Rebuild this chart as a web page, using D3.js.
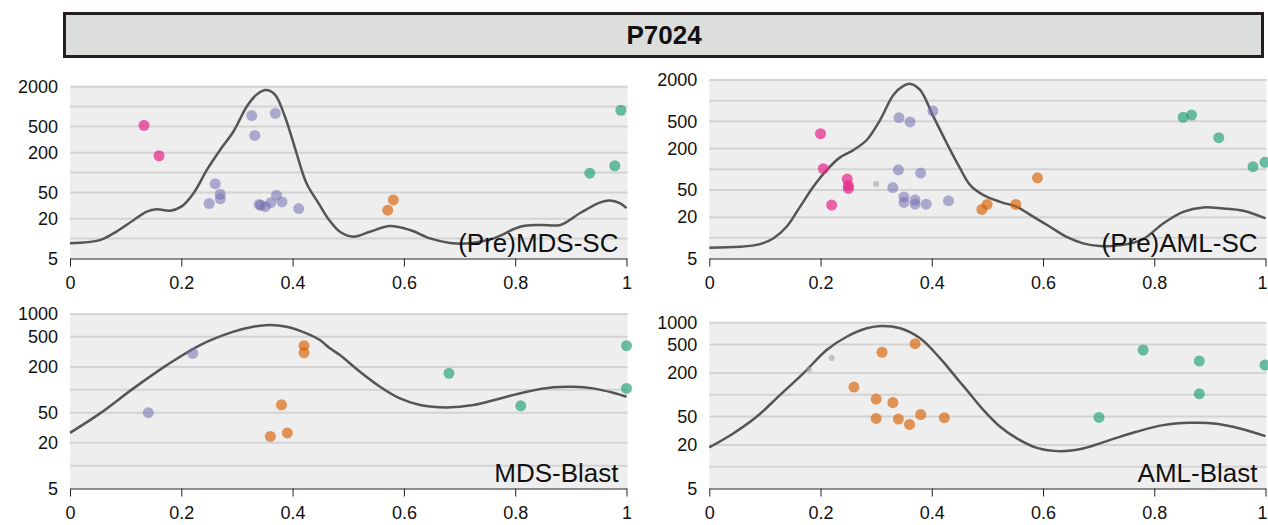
<!DOCTYPE html>
<html>
<head>
<meta charset="utf-8">
<script src="https://cdn.jsdelivr.net/npm/d3@7"></script>
<style>
  html, body { margin: 0; padding: 0; background: #fff; }
  svg { display: block; font-family: "Liberation Sans", Arial, sans-serif; }
</style>
</head>
<body>
<svg id="chart" width="1268" height="525"></svg>
<script>
// ---------------- DATA ----------------
const chartTitle = "P7024";
const panelNames = ["(Pre)MDS-SC", "(Pre)AML-SC", "MDS-Blast", "AML-Blast"];
const xTickValues = [0, 0.2, 0.4, 0.6, 0.8, 1];
const yTickLabelsTop = [5, 20, 50, 200, 500, 2000];
const yGridTop = [10, 20, 50, 100, 200, 500, 1000, 2000];
const yTickLabelsBottom = [5, 20, 50, 200, 500, 1000];
const yGridBottom = [10, 20, 50, 100, 200, 500, 1000];
const groupNames = ["pink", "purple", "grey", "orange", "green"];
const groupColors = ["#e7298a", "#7570b3", "#9a9a9a", "#d95f02", "#1b9e77"];

// points: [x, value, group]
const preMdsScPoints = [
  [0.133, 520, "pink"], [0.160, 180, "pink"],
  [0.3265, 730, "purple"], [0.369, 790, "purple"], [0.332, 365, "purple"],
  [0.261, 68, "purple"], [0.270, 47, "purple"], [0.270, 40, "purple"],
  [0.250, 34, "purple"], [0.340, 33, "purple"], [0.343, 32, "purple"],
  [0.351, 30.5, "purple"], [0.361, 35, "purple"], [0.371, 45.5, "purple"],
  [0.381, 36, "purple"], [0.411, 28.5, "purple"],
  [0.581, 38.5, "orange"], [0.571, 27, "orange"],
  [0.934, 98, "green"], [0.979, 127, "green"], [0.990, 880, "green"]
];
const preAmlScPoints = [
  [0.200, 330, "pink"], [0.205, 102, "pink"], [0.248, 72, "pink"],
  [0.250, 58, "pink"], [0.250, 52.5, "pink"], [0.220, 30, "pink"],
  [0.300, 61, "grey"],
  [0.341, 565, "purple"], [0.361, 490, "purple"], [0.402, 705, "purple"],
  [0.340, 98, "purple"], [0.380, 88, "purple"], [0.330, 54, "purple"],
  [0.350, 39.5, "purple"], [0.350, 33, "purple"], [0.370, 35.5, "purple"],
  [0.370, 31, "purple"], [0.390, 31, "purple"], [0.430, 34.7, "purple"],
  [0.490, 26, "orange"], [0.4995, 30.7, "orange"], [0.551, 30.7, "orange"],
  [0.590, 75, "orange"],
  [0.852, 572, "green"], [0.867, 618, "green"], [0.916, 288, "green"],
  [0.9775, 109, "green"], [0.999, 126, "green"]
];
const mdsBlastPoints = [
  [0.1407, 50, "purple"], [0.2205, 303, "purple"],
  [0.4205, 382, "orange"], [0.4205, 308, "orange"], [0.380, 63.5, "orange"],
  [0.360, 24.3, "orange"], [0.3905, 27, "orange"],
  [0.681, 165, "green"], [0.810, 61.6, "green"], [1.0, 382, "green"], [1.0, 104.5, "green"]
];
const amlBlastPoints = [
  [0.179, 225, "grey"], [0.220, 323, "grey"],
  [0.370, 511, "orange"], [0.3105, 388, "orange"], [0.260, 128, "orange"],
  [0.300, 87, "orange"], [0.330, 78, "orange"], [0.300, 47, "orange"],
  [0.340, 46, "orange"], [0.380, 53, "orange"], [0.360, 38.7, "orange"],
  [0.4225, 48, "orange"],
  [0.7006, 48.5, "green"], [0.780, 418, "green"], [0.881, 294, "green"],
  [0.881, 103, "green"], [0.999, 258, "green"]
];

// density curves: [x, value]
const preMdsScCurve = [
  [0, 8.5], [0.054, 9.5], [0.078, 12], [0.114, 19], [0.138, 25.6], [0.156, 27.9],
  [0.180, 26.5], [0.2, 30.5], [0.222, 48.8], [0.246, 110], [0.27, 222], [0.294, 423],
  [0.318, 1014], [0.336, 1530], [0.352, 1778], [0.368, 1530], [0.386, 715],
  [0.407, 198], [0.425, 69], [0.447, 34], [0.466, 19], [0.485, 12.7], [0.509, 10.7],
  [0.539, 12.7], [0.575, 15.5], [0.611, 13.5], [0.647, 10.1], [0.683, 8.6],
  [0.719, 8.5], [0.761, 10.1], [0.809, 15.1], [0.845, 16.1], [0.881, 16.1],
  [0.916, 24.2], [0.952, 35.1], [0.970, 37.7], [0.988, 34.4], [1.0, 29]
];
const preAmlScCurve = [
  [0, 7.2], [0.055, 7.4], [0.091, 8.1], [0.115, 9.8], [0.139, 14.5], [0.163, 28.3],
  [0.187, 55.5], [0.211, 97], [0.235, 149], [0.259, 190], [0.283, 267], [0.307, 522],
  [0.331, 1211], [0.349, 1637], [0.362, 1753], [0.379, 1432], [0.403, 584],
  [0.427, 239], [0.449, 110], [0.469, 58.8], [0.493, 42], [0.523, 33.5],
  [0.553, 28.3], [0.583, 20.2], [0.6125, 14.5], [0.6425, 10.3], [0.672, 8.3],
  [0.702, 7.6], [0.744, 7.9], [0.780, 9.6], [0.816, 16.2], [0.852, 23.9],
  [0.888, 27.8], [0.924, 26.8], [0.960, 24.8], [1.0, 19.2]
];
const mdsBlastCurve = [
  [0, 27.1], [0.054, 48.9], [0.114, 104.5], [0.174, 212], [0.234, 390], [0.294, 585],
  [0.329, 680], [0.359, 716], [0.389, 680], [0.425, 556], [0.449, 454], [0.467, 353],
  [0.485, 288], [0.521, 173], [0.557, 110], [0.593, 77], [0.629, 63], [0.677, 58.7],
  [0.725, 63], [0.773, 77], [0.821, 94.3], [0.8685, 108], [0.904, 110], [0.940, 104.5],
  [0.976, 91.4], [1.0, 81]
];
const amlBlastCurve = [
  [0, 18.6], [0.043, 29], [0.085, 49.4], [0.127, 98.9], [0.169, 198], [0.211, 418],
  [0.247, 638], [0.283, 836], [0.310, 900], [0.343, 836], [0.379, 607], [0.415, 320],
  [0.433, 220], [0.449, 155], [0.463, 116], [0.493, 61.2], [0.523, 35.9], [0.553, 24.8],
  [0.589, 18.3], [0.6305, 16.5], [0.672, 18], [0.720, 23.5], [0.768, 30.6],
  [0.816, 37.9], [0.864, 40.8], [0.912, 39.7], [0.954, 34.1], [1.0, 26.7]
];

// ---------------- LAYOUT ----------------
const W = 1268;
const svg = d3.select("#chart");
const color = d3.scaleOrdinal().domain(groupNames).range(groupColors);
const opacity = { pink: 0.72, purple: 0.55, grey: 0.55, orange: 0.65, green: 0.65 };
const radius = { pink: 5.5, purple: 5.5, grey: 3, orange: 5.5, green: 5.5 };

// title banner
svg.append("rect")
  .attr("x", 64.5).attr("y", 13.5).attr("width", 1198).attr("height", 43)
  .attr("fill", "#dcdedc").attr("stroke", "#231f20").attr("stroke-width", 3);
svg.append("text")
  .attr("x", 664).attr("y", 43.5).attr("text-anchor", "middle")
  .attr("font-size", 26).attr("font-weight", "bold").attr("fill", "#111")
  .text(chartTitle);

const panels = [
  { name: panelNames[0], pts: preMdsScPoints, curve: preMdsScCurve, x0: 70, x1: 626.5, yTop: 86.7, yBot: 258.5, dom: [5, 2000], labels: yTickLabelsTop, grid: yGridTop },
  { name: panelNames[1], pts: preAmlScPoints, curve: preAmlScCurve, x0: 709.3, x1: 1265.5, yTop: 80, yBot: 258.5, dom: [5, 2000], labels: yTickLabelsTop, grid: yGridTop },
  { name: panelNames[2], pts: mdsBlastPoints, curve: mdsBlastCurve, x0: 70, x1: 626.5, yTop: 314, yBot: 488.5, dom: [5, 1000], labels: yTickLabelsBottom, grid: yGridBottom },
  { name: panelNames[3], pts: amlBlastPoints, curve: amlBlastCurve, x0: 709.3, x1: 1265.5, yTop: 322.7, yBot: 488.5, dom: [5, 1000], labels: yTickLabelsBottom, grid: yGridBottom }
];

panels.forEach((p, i) => {
  const x = d3.scaleLinear().domain([0, 1]).range([p.x0, p.x1]);
  const y = d3.scaleLog().domain(p.dom).range([p.yBot, p.yTop]);
  const g = svg.append("g");

  // background
  g.append("rect")
    .attr("x", p.x0).attr("y", p.yTop - 1)
    .attr("width", p.x1 - p.x0 + 1).attr("height", p.yBot - p.yTop + 1)
    .attr("fill", "#eeeeee");

  // gridlines
  g.selectAll("line.grid").data(p.grid).enter().append("line")
    .attr("class", "grid")
    .attr("x1", p.x0).attr("x2", p.x1 + 1)
    .attr("y1", d => y(d)).attr("y2", d => y(d))
    .attr("stroke", "#d3d3d3").attr("stroke-width", 2);

  // y axis labels
  const yAxis = d3.axisLeft(y).tickValues(p.labels).tickFormat(d3.format("d"))
    .tickSize(0).tickPadding(12);
  const ya = g.append("g").attr("transform", `translate(${p.x0},0)`).call(yAxis);
  ya.select(".domain").remove();
  ya.selectAll("text").attr("font-size", 18).attr("fill", "#111")
    .attr("font-family", "'Liberation Sans', Arial, sans-serif");

  // x axis
  const xAxis = d3.axisBottom(x).tickValues(xTickValues).tickFormat(d3.format(""))
    .tickSize(8).tickSizeOuter(0).tickPadding(10);
  const xa = g.append("g").attr("transform", `translate(0,${p.yBot})`).call(xAxis);
  xa.select(".domain").attr("stroke", "#222");
  xa.selectAll(".tick line").attr("stroke", "#222");
  xa.selectAll("text").attr("font-size", 18).attr("fill", "#111")
    .attr("font-family", "'Liberation Sans', Arial, sans-serif");
  // keep edge labels inside the page
  xa.selectAll(".tick text").each(function (d) {
    const bb = this.getBBox();
    const right = x(d) + bb.x + bb.width;
    if (right > W - 1) d3.select(this).attr("dx", (W - 1 - right).toFixed(1));
  });

  // density curve
  const line = d3.line().x(d => x(d[0])).y(d => y(d[1])).curve(d3.curveCatmullRom.alpha(0.5));
  g.append("path").datum(p.curve)
    .attr("d", line).attr("fill", "none")
    .attr("stroke", "#555").attr("stroke-width", 2.5);

  // points
  g.selectAll("circle").data(p.pts).enter().append("circle")
    .attr("cx", d => x(d[0])).attr("cy", d => y(d[1]))
    .attr("r", d => radius[d[2]])
    .attr("fill", d => color(d[2]))
    .attr("fill-opacity", d => opacity[d[2]]);

  // panel label
  g.append("text")
    .attr("x", p.x1 - 8).attr("y", p.yBot - 7)
    .attr("text-anchor", "end").attr("font-size", 26).attr("fill", "#111")
    .text(p.name);
});
</script>
</body>
</html>
